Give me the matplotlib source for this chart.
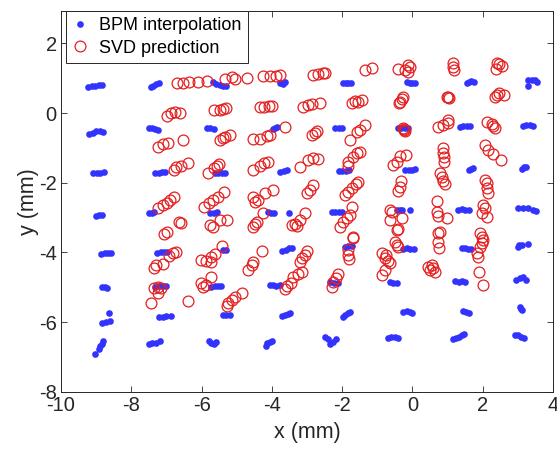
import matplotlib
matplotlib.use("Agg")
import matplotlib.pyplot as plt
import numpy as np

plt.rcParams["font.family"] = ["Liberation Sans", "DejaVu Sans"]
plt.rcParams["axes.unicode_minus"] = False

# BPM interpolated positions (mm), grouped by grid column
bpm_xy = np.array([
    # column near x = -9
    (-9.22, 0.75), (-9.12, 0.77), (-9.02, 0.78), (-8.92, 0.80), (-8.82, 0.80),
    (-9.20, -0.60), (-9.10, -0.56), (-9.00, -0.52), (-8.90, -0.52), (-8.80, -0.55),
    (-9.08, -1.73), (-8.98, -1.71), (-8.88, -1.71), (-8.78, -1.70),
    (-9.00, -2.95), (-8.92, -2.92), (-8.84, -2.94),
    (-8.86, -4.05), (-8.76, -4.02), (-8.66, -4.01), (-8.58, -4.02),
    (-8.82, -5.00), (-8.76, -4.98), (-8.70, -5.02),
    (-8.64, -5.73), (-8.82, -6.02), (-8.72, -5.99), (-8.60, -5.98),
    (-8.80, -6.55), (-8.84, -6.62), (-8.88, -6.70), (-8.92, -6.78), (-9.02, -6.93),
    # column near x = -7.3
    (-7.45, 0.76), (-7.38, 0.79), (-7.30, 0.82), (-7.22, 0.85),
    (-7.50, -0.43), (-7.42, -0.44), (-7.33, -0.46), (-7.25, -0.50),
    (-7.32, -1.72), (-7.22, -1.71), (-7.12, -1.70), (-7.04, -1.70),
    (-7.50, -2.88), (-7.42, -2.87), (-7.34, -2.85),
    (-7.26, -4.02), (-7.16, -4.00), (-7.06, -3.99), (-6.98, -4.00),
    (-7.33, -4.98), (-7.22, -4.97), (-7.10, -4.97), (-7.00, -4.97),
    (-7.20, -5.86), (-7.10, -5.85), (-7.00, -5.84), (-6.86, -5.83),
    (-7.50, -6.62), (-7.40, -6.60), (-7.30, -6.60), (-7.18, -6.55),
    # column near x = -5.5
    (-5.68, 0.88), (-5.58, 0.84), (-5.48, 0.80), (-5.38, 0.78), (-5.30, 0.78),
    (-5.85, -0.42), (-5.75, -0.42), (-5.65, -0.45),
    (-5.62, -1.72), (-5.52, -1.72), (-5.42, -1.71), (-5.32, -1.72),
    (-5.76, -2.88), (-5.66, -2.86), (-5.56, -2.85),
    (-5.38, -3.94), (-5.30, -3.92),
    (-5.72, -4.99), (-5.62, -4.97), (-5.52, -4.96), (-5.44, -4.96),
    (-5.40, -5.80), (-5.30, -5.79), (-5.20, -5.79),
    (-5.80, -6.55), (-5.72, -6.60), (-5.64, -6.62), (-5.60, -6.58),
    # column near x = -3.7
    (-3.76, 0.86), (-3.68, 0.84), (-3.62, 0.88),
    (-3.98, -0.45), (-3.90, -0.42), (-3.84, -0.40),
    (-3.76, -1.68), (-3.66, -1.66), (-3.56, -1.64),
    (-4.10, -2.85), (-4.02, -2.86), (-3.94, -2.86), (-3.52, -2.86),
    (-3.70, -3.95), (-3.60, -3.92), (-3.50, -3.88), (-3.44, -3.86),
    (-4.05, -4.93), (-3.96, -4.95), (-3.88, -4.96), (-3.78, -4.94),
    (-3.70, -5.84), (-3.62, -5.80), (-3.54, -5.76), (-3.48, -5.74),
    (-4.18, -6.70), (-4.14, -6.60), (-4.06, -6.56), (-4.00, -6.54),
    # column near x = -1.9
    (-1.98, 0.86), (-1.90, 0.87), (-1.82, 0.87), (-1.76, 0.85),
    (-2.20, -0.42), (-2.10, -0.42), (-2.00, -0.43),
    (-2.10, -1.66), (-2.00, -1.65), (-1.90, -1.66), (-1.80, -1.64),
    (-2.30, -2.84), (-2.20, -2.83), (-2.10, -2.84), (-2.00, -2.83),
    (-1.92, -3.84), (-1.84, -3.82), (-1.72, -3.83),
    (-2.34, -4.86), (-2.24, -4.88), (-2.12, -4.87),
    (-1.98, -5.86), (-1.92, -5.80), (-1.84, -5.74), (-1.78, -5.70),
    (-2.48, -6.44), (-2.40, -6.50), (-2.34, -6.62), (-2.26, -6.56), (-2.18, -6.50),
    # column near x = -0.2
    (-0.16, 0.88), (-0.08, 0.86), (0.00, 0.85), (0.06, 0.86),
    (-0.42, -0.42), (-0.32, -0.42), (-0.22, -0.43), (-0.14, -0.44),
    (-0.20, -1.64), (-0.10, -1.63), (0.00, -1.63), (0.06, -1.62),
    (-0.44, -2.78), (-0.36, -2.77), (-0.30, -2.79), (-0.08, -2.78),
    (-0.26, -3.90), (-0.16, -3.88), (-0.06, -3.89), (0.04, -3.90),
    (-0.64, -4.86), (-0.54, -4.88), (-0.44, -4.87),
    (-0.26, -5.72), (-0.16, -5.68), (-0.06, -5.70), (0.00, -5.74),
    (-0.70, -6.46), (-0.60, -6.44), (-0.50, -6.44), (-0.40, -6.45),
    # column near x = 1.5
    (1.55, 0.86), (1.62, 0.90), (1.68, 0.92), (1.74, 0.88),
    (1.35, -0.40), (1.45, -0.38), (1.55, -0.36), (1.65, -0.38),
    (1.60, -1.64), (1.66, -1.60), (1.72, -1.58),
    (1.30, -2.77), (1.40, -2.76), (1.50, -2.78), (1.60, -2.77),
    (1.42, -3.86), (1.50, -3.88), (1.58, -3.90), (1.66, -3.90),
    (1.22, -4.82), (1.32, -4.84), (1.42, -4.83), (1.50, -4.86),
    (1.44, -5.68), (1.52, -5.72), (1.60, -5.74),
    (1.16, -6.50), (1.24, -6.46), (1.32, -6.42), (1.40, -6.37), (1.46, -6.34),
    # column near x = 3.2
    (3.30, 0.95), (3.40, 0.96), (3.50, 0.94), (3.54, 0.90), (3.30, 0.78),
    (3.14, -0.38), (3.24, -0.35), (3.34, -0.34), (3.42, -0.36),
    (3.12, -1.60), (3.18, -1.56), (3.24, -1.54),
    (3.00, -2.72), (3.15, -2.72), (3.30, -2.74), (3.42, -2.77), (3.52, -2.80),
    (3.00, -3.85), (3.04, -3.78), (3.12, -3.80), (3.28, -3.76),
    (2.96, -4.78), (3.06, -4.74), (3.14, -4.72), (3.24, -4.78),
    (3.06, -5.58), (3.10, -5.62), (3.12, -5.66),
    (2.92, -6.36), (3.00, -6.38), (3.10, -6.42), (3.18, -6.45),
])

# SVD predicted positions (mm), grouped by row
svd_xy = np.array([
    # row A
    (-6.70, 0.87), (-6.53, 0.87), (-6.36, 0.90), (-6.10, 0.90), (-5.85, 0.91),
    (-5.33, 0.98), (-5.13, 1.04), (-5.05, 0.98), (-4.71, 1.01),
    (-4.25, 1.07), (-4.05, 1.07), (-3.88, 1.07), (-3.77, 1.08),
    (-2.83, 1.10), (-2.69, 1.13), (-2.55, 1.16), (-2.49, 1.16),
    (-1.35, 1.24), (-1.15, 1.30),
    (-0.40, 1.27), (-0.20, 1.25), (-0.08, 1.31), (-0.13, 1.37), (-0.13, 1.18),
    (1.15, 1.44), (1.15, 1.33), (1.18, 1.24),
    (2.40, 1.44), (2.46, 1.41), (2.55, 1.36), (2.38, 1.27),
    # row B
    (-6.98, -0.08), (-6.87, 0.01), (-6.76, 0.04), (-6.61, 0.01),
    (-5.65, 0.09), (-5.48, 0.09), (-5.39, 0.12), (-5.31, 0.15),
    (-4.34, 0.18), (-4.22, 0.18), (-4.08, 0.21), (-4.00, 0.21),
    (-3.11, 0.18), (-2.97, 0.24), (-2.86, 0.27), (-2.63, 0.30),
    (-1.72, 0.30), (-1.64, 0.35), (-1.55, 0.32), (-1.44, 0.38),
    (-0.38, 0.28), (-0.36, 0.32), (-0.30, 0.41), (-0.27, 0.47),
    (0.98, 0.47), (1.04, 0.44), (1.01, 0.46),
    (2.35, 0.47), (2.40, 0.53), (2.60, 0.53), (2.46, 0.58),
    # row C
    (-7.24, -0.97), (-7.10, -0.90), (-6.96, -0.86), (-6.53, -0.77),
    (-5.48, -0.77), (-5.39, -0.71), (-5.33, -0.68), (-5.19, -0.62),
    (-4.54, -0.74), (-4.34, -0.75), (-4.14, -0.66), (-4.05, -0.62), (-3.63, -0.39),
    (-2.86, -0.62), (-2.77, -0.57), (-2.72, -0.51),
    (-1.78, -0.77), (-1.58, -0.54), (-1.49, -0.48), (-1.35, -0.35),
    (-0.27, -0.42), (-0.24, -0.48), (-0.21, -0.51), (-0.25, -0.45),
    (0.73, -0.39), (0.87, -0.34), (1.01, -0.28), (1.01, -0.19),
    (2.12, -0.25), (2.26, -0.31), (2.29, -0.36), (2.35, -0.42),
    # row D
    (-6.79, -1.63), (-6.73, -1.54), (-6.59, -1.51), (-6.39, -1.43),
    (-5.82, -1.71), (-5.65, -1.57), (-5.56, -1.52), (-5.50, -1.46),
    (-4.54, -1.63), (-4.34, -1.51), (-4.22, -1.43), (-4.11, -1.40),
    (-3.20, -1.54), (-2.97, -1.34), (-2.83, -1.28), (-2.69, -1.31),
    (-1.83, -1.51), (-1.83, -1.40), (-1.69, -1.25), (-1.58, -1.14), (-1.49, -1.11),
    (-0.55, -1.48), (-0.44, -1.40), (-0.36, -1.22), (-0.18, -1.20),
    (0.87, -1.00), (0.87, -1.14), (0.90, -1.25), (0.90, -1.40),
    (2.06, -0.91), (2.15, -1.05), (2.29, -1.17), (2.52, -1.34),
    # row E
    (-7.24, -2.72), (-7.10, -2.63), (-6.98, -2.57), (-6.90, -2.49), (-6.79, -2.40),
    (-5.93, -2.69), (-5.79, -2.57), (-5.68, -2.49), (-5.53, -2.40), (-5.36, -2.26),
    (-4.54, -2.40), (-4.48, -2.55), (-4.40, -2.49), (-4.20, -2.29), (-3.97, -2.20),
    (-3.00, -2.29), (-2.92, -2.20), (-2.83, -2.06),
    (-1.92, -2.35), (-1.83, -2.26), (-1.72, -2.14), (-1.61, -2.03), (-1.55, -1.97),
    (-0.42, -2.25), (-0.36, -2.12), (-0.32, -1.96),
    (0.78, -1.71), (0.84, -1.83), (0.87, -1.95), (0.92, -2.05),
    (2.06, -1.91), (2.12, -2.00), (2.12, -2.14), (2.15, -2.29),
    # row F
    (-7.07, -3.46), (-6.98, -3.41), (-6.64, -3.12), (-6.59, -3.16),
    (-5.76, -3.22), (-5.68, -3.27), (-5.48, -3.06), (-5.28, -3.06),
    (-4.54, -3.26), (-4.48, -3.18), (-4.42, -3.12), (-4.25, -2.86),
    (-3.43, -3.21), (-3.34, -3.18), (-3.28, -3.24), (-3.20, -3.08), (-3.06, -2.88),
    (-2.06, -3.26), (-1.98, -3.12), (-1.86, -3.00), (-1.78, -2.92), (-1.72, -2.69),
    (-0.64, -2.77), (-0.58, -2.83), (-0.64, -3.06), (-0.30, -3.00),
    (0.70, -2.52), (0.70, -2.84), (0.72, -2.96), (0.98, -3.00),
    (2.01, -2.63), (2.06, -2.72), (1.98, -2.86), (2.12, -2.98),
    # row G
    (-7.35, -4.44), (-7.30, -4.35), (-7.10, -4.32), (-6.93, -4.09), (-6.81, -4.03), (-6.73, -3.98),
    (-6.02, -4.21), (-5.87, -4.24), (-5.73, -4.12), (-5.73, -4.27), (-5.62, -4.04), (-5.42, -3.81),
    (-4.68, -4.50), (-4.57, -4.35), (-4.54, -4.27), (-4.28, -3.95),
    (-3.20, -4.27), (-3.14, -4.15), (-3.06, -4.07), (-3.00, -3.95),
    (-1.69, -3.55), (-1.69, -3.60), (-1.83, -3.92), (-1.83, -4.07), (-1.81, -4.18),
    (-0.44, -3.35), (-0.41, -3.32), (-0.50, -3.69), (-0.44, -3.78), (-0.41, -3.84),
    (0.73, -3.43), (0.78, -3.41), (0.73, -3.69), (0.75, -3.86),
    (1.92, -3.43), (1.98, -3.55), (2.01, -3.64), (1.98, -3.72), (1.92, -3.84), (1.84, -4.01), (1.86, -4.12),
    # row H
    (-7.35, -5.01), (-7.24, -4.98), (-7.16, -5.01), (-7.24, -5.18), (-7.44, -5.44), (-6.39, -5.39),
    (-6.02, -4.87), (-5.96, -4.98), (-5.87, -4.93), (-5.73, -4.70),
    (-5.28, -5.55), (-5.24, -5.45), (-5.14, -5.37), (-5.04, -5.29), (-4.85, -5.17),
    (-3.63, -5.04), (-3.57, -4.96), (-3.46, -4.87), (-3.40, -4.72), (-3.26, -4.62), (-3.14, -4.55),
    (-2.29, -4.98), (-2.26, -4.84), (-2.18, -4.73), (-2.12, -4.61),
    (-0.87, -4.01), (-0.76, -4.07), (-0.78, -4.15), (-0.70, -4.24), (-0.64, -4.30), (-0.78, -4.50), (-0.87, -4.64),
    (0.44, -4.41), (0.50, -4.50), (0.58, -4.44), (0.64, -4.56), (0.55, -4.35),
    (1.89, -4.56), (2.01, -4.93),
])

x_ticks = [-10, -8, -6, -4, -2, 0, 2, 4]
y_ticks = [-8, -6, -4, -2, 0, 2]
legend_labels = ["BPM interpolation", "SVD prediction"]

fig = plt.figure(figsize=(5.57, 4.5), dpi=100)
ax = fig.add_axes([61 / 557, 1 - 391.7 / 450, 492 / 557, 380.7 / 450])

ax.plot(bpm_xy[:, 0], bpm_xy[:, 1], "o", color="#3333ff", markersize=4.8,
        markeredgewidth=0, label=legend_labels[0])
ax.plot(svd_xy[:, 0], svd_xy[:, 1], "o", markerfacecolor="none", markeredgecolor="#e51e1e",
        markersize=7.8, markeredgewidth=0.9, label=legend_labels[1])

ax.set_xlim(-10, 4)
ax.set_ylim(-8, 2.93)
ax.set_xticks(x_ticks)
ax.set_yticks(y_ticks)
ax.tick_params(direction="in", top=True, right=True, length=4, width=0.6,
               labelsize=14.5, colors="#262626", pad=3)
for s in ax.spines.values():
    s.set_color("#262626")
    s.set_linewidth(0.7)
ax.set_xlabel("x (mm)", fontsize=15.5, color="#262626", labelpad=5)
ax.set_ylabel("y (mm)", fontsize=15.5, color="#262626", labelpad=0)

leg = ax.legend(loc="upper left", bbox_to_anchor=(5 / 492, 1.0), borderaxespad=0,
                fontsize=13, numpoints=1, handlelength=0.8, handletextpad=0.7,
                labelspacing=0.3, borderpad=0.35, fancybox=False, framealpha=1)
leg.get_frame().set_edgecolor("#262626")
leg.get_frame().set_linewidth(0.7)

fig.savefig("out.png", dpi=100)
